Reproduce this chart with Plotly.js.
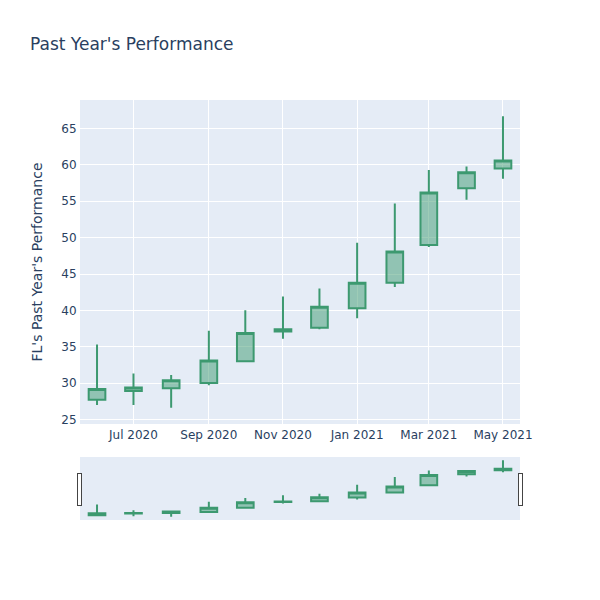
<!DOCTYPE html>
<html>
<head>
<script src="https://cdn.plot.ly/plotly-3.0.1.min.js"></script>
<style>body{margin:0;}</style>
</head>
<body>
<div id="chart" style="width:600px;height:600px;"></div>
<script>
const dates = ["2020-06-01","2020-07-01","2020-08-01","2020-09-01","2020-10-01","2020-11-01","2020-12-01","2021-01-01","2021-02-01","2021-03-01","2021-04-01","2021-05-01"];
const openVals  = [27.7, 28.9, 29.3, 30.0, 33.0, 37.1, 37.6, 40.3, 43.8, 49.0, 56.8, 59.5];
const highVals  = [35.3, 31.3, 31.1, 37.2, 40.0, 41.9, 43.0, 49.3, 54.7, 59.3, 59.8, 66.7];
const lowVals   = [27.0, 27.0, 26.6, 29.7, 32.9, 36.1, 37.4, 38.9, 43.2, 48.7, 55.2, 58.1];
const closeVals = [29.2, 29.4, 30.4, 33.1, 36.9, 37.4, 40.5, 43.8, 48.1, 56.2, 59.0, 60.6];

const trace = {
  type: 'candlestick',
  x: dates, open: openVals, high: highVals, low: lowVals, close: closeVals,
  increasing: {line: {color: '#3D9970'}},
  decreasing: {line: {color: '#FF4136'}}
};
const layout = {
  width: 600, height: 600,
  paper_bgcolor: 'white', plot_bgcolor: '#E5ECF6',
  font: {family: '"DejaVu Sans", verdana, arial, sans-serif', color: '#2a3f5f', size: 12},
  title: {text: "Past Year's Performance", x: 0.05, font: {size: 17}},
  margin: {l: 80, r: 80, t: 100, b: 80},
  showlegend: false,
  xaxis: {gridcolor: 'white', linecolor: 'white', zerolinecolor: 'white', tickformat: '%b %Y', dtick: 'M2',
          rangeslider: {visible: true}},
  yaxis: {gridcolor: 'white', linecolor: 'white', zerolinecolor: 'white', dtick: 5,
          title: {text: "FL's Past Year's Performance", font: {size: 14}}}
};
Plotly.newPlot('chart', [trace], layout, {displayModeBar: false});
</script>
</body>
</html>
